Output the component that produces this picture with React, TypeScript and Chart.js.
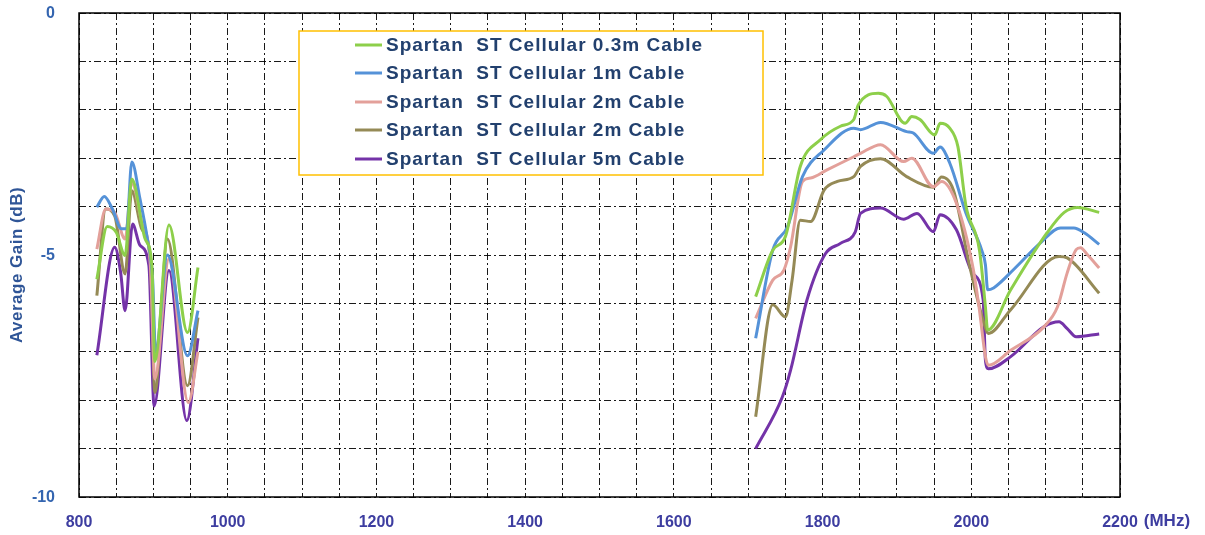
import React, { useEffect, useRef } from 'react';
import { Chart, registerables } from 'chart.js';

Chart.register(...registerables);

// ---------- data ----------
const seriesLabels = [
  'Spartan  ST Cellular 0.3m Cable',
  'Spartan  ST Cellular 1m Cable',
  'Spartan  ST Cellular 2m Cable',
  'Spartan  ST Cellular 2m Cable',
  'Spartan  ST Cellular 5m Cable',
];
const seriesColors = ['#8DCF4A', '#5592D8', '#E3A09A', '#958A56', '#7433A8'];

// low band (cellular 824-960 MHz)
const lowFreq03 = [824, 838, 850, 862, 871, 889, 898, 902, 921, 946, 960];
const lowGain03 = [-5.5, -4.41, -4.53, -5.01, -3.43, -4.67, -5.22, -7.2, -4.38, -6.6, -5.26];
const lowFreq1 = [824, 834, 845, 857, 864, 871, 882, 892, 899, 903, 919, 946, 960];
const lowGain1 = [-4.01, -3.79, -4.05, -4.46, -4.46, -3.08, -3.84, -4.67, -5.5, -7.0, -5.0, -7.08, -6.15];
const lowFreq2a = [824, 836, 848, 862, 871, 884, 896, 902, 921, 947, 960];
const lowGain2a = [-4.88, -4.05, -4.12, -4.67, -3.5, -4.3, -5.22, -7.56, -5.08, -8.05, -7.0];
const lowFreq2b = [824, 836, 848, 862, 871, 884, 896, 902, 919, 946, 960];
const lowGain2b = [-5.84, -4.05, -4.19, -5.39, -3.67, -4.45, -5.1, -7.84, -4.67, -7.7, -6.29];
const lowFreq5 = [824, 848, 856, 862, 872, 882, 894, 901, 921, 945, 960];
const lowGain5 = [-7.07, -4.84, -5.36, -6.15, -4.36, -4.8, -5.22, -8.12, -5.32, -8.42, -6.72];

// high band (1710-2170 MHz)
const highFreq03 = [1710, 1733, 1750, 1770, 1797, 1824, 1842, 1848, 1875, 1886, 1911, 1920, 1931, 1951, 1958, 1971, 1982, 1993, 2011, 2019, 2022, 2053, 2102, 2125, 2143, 2172];
const highGain03 = [-5.86, -4.9, -4.62, -3.17, -2.62, -2.34, -2.2, -1.9, -1.66, -1.72, -2.28, -2.14, -2.2, -2.52, -2.28, -2.38, -2.76, -4.0, -4.9, -6.07, -6.55, -5.72, -4.54, -4.12, -4.02, -4.12];
const highFreq1 = [1710, 1733, 1753, 1773, 1802, 1842, 1851, 1878, 1913, 1922, 1949, 1958, 1971, 1993, 2014, 2019, 2022, 2030, 2057, 2093, 2120, 2138, 2152, 2172];
const highGain1 = [-6.72, -4.9, -4.41, -3.38, -2.83, -2.38, -2.41, -2.26, -2.45, -2.48, -2.9, -2.77, -3.1, -4.14, -4.9, -5.2, -5.72, -5.68, -5.3, -4.75, -4.44, -4.44, -4.54, -4.78];
const highFreq2a = [1710, 1733, 1748, 1757, 1773, 1784, 1806, 1842, 1851, 1878, 1909, 1920, 1949, 1960, 1980, 2002, 2011, 2019, 2023, 2053, 2098, 2116, 2129, 2141, 2147, 2156, 2172];
const highGain2a = [-6.31, -5.52, -5.31, -4.83, -3.48, -3.41, -3.24, -2.97, -2.9, -2.72, -3.07, -3.0, -3.59, -3.48, -3.93, -5.24, -6.14, -7.1, -7.28, -6.97, -6.48, -6.07, -5.37, -4.89, -4.85, -4.99, -5.27];
const highFreq2b = [1710, 1733, 1750, 1759, 1770, 1784, 1802, 1820, 1842, 1851, 1878, 1913, 1949, 1960, 1976, 1998, 2020, 2023, 2053, 2118, 2129, 2172];
const highGain2b = [-8.34, -6.03, -6.28, -5.52, -4.28, -4.31, -3.66, -3.48, -3.38, -3.17, -3.01, -3.38, -3.6, -3.39, -3.66, -5.24, -6.55, -6.62, -6.13, -5.03, -5.06, -5.79];
const highFreq5 = [1710, 1746, 1757, 1779, 1804, 1824, 1844, 1851, 1878, 1909, 1927, 1949, 1958, 1980, 2002, 2016, 2019, 2023, 2053, 2098, 2118, 2129, 2141, 2172];
const highGain5 = [-9.0, -7.93, -7.38, -5.93, -4.97, -4.76, -4.52, -4.14, -4.03, -4.26, -4.14, -4.52, -4.17, -4.48, -5.38, -5.93, -7.17, -7.35, -7.1, -6.48, -6.38, -6.52, -6.69, -6.63];

const lowFreqs = [lowFreq03, lowFreq1, lowFreq2a, lowFreq2b, lowFreq5];
const lowGains = [lowGain03, lowGain1, lowGain2a, lowGain2b, lowGain5];
const highFreqs = [highFreq03, highFreq1, highFreq2a, highFreq2b, highFreq5];
const highGains = [highGain03, highGain1, highGain2a, highGain2b, highGain5];

const xTickLabels = [800, 1000, 1200, 1400, 1600, 1800, 2000, 2200];
const yTickLabels = [0, -5, -10];

const FONT = '"Liberation Sans", Arial, sans-serif';

function buildPoints(i: number) {
  const pts: { x: number; y: number | null }[] = [];
  lowFreqs[i].forEach((f, k) => pts.push({ x: f, y: lowGains[i][k] }));
  pts.push({ x: 1300, y: null }); // gap between bands
  highFreqs[i].forEach((f, k) => pts.push({ x: f, y: highGains[i][k] }));
  return pts;
}

const framePlugin = {
  id: 'frameAndLegend',
  afterDraw(chart: any) {
    const { ctx, chartArea } = chart;
    const { left, top, right, bottom } = chartArea;
    ctx.save();
    // frame
    ctx.strokeStyle = '#000';
    ctx.lineWidth = 1.5;
    ctx.setLineDash([]);
    ctx.strokeRect(left, top, right - left, bottom - top);

    // y tick labels
    const ys = chart.scales.y;
    ctx.font = `bold 16px ${FONT}`;
    ctx.fillStyle = '#3465B0';
    ctx.textAlign = 'right';
    ctx.textBaseline = 'middle';
    yTickLabels.forEach((v) => {
      ctx.fillText(String(v), 55, ys.getPixelForValue(v) + 1);
    });

    // y-axis title
    ctx.save();
    ctx.translate(17, 265);
    ctx.rotate(-Math.PI / 2);
    ctx.fillStyle = '#2F5597';
    ctx.font = `bold 17px ${FONT}`;
    (ctx as any).letterSpacing = '0.5px';
    ctx.textAlign = 'center';
    ctx.textBaseline = 'middle';
    ctx.fillText('Average Gain (dB)', 0, 0);
    ctx.restore();

    // (MHz) unit after last x label
    const xs = chart.scales.x;
    ctx.font = `bold 16px ${FONT}`;
    const px = xs.getPixelForValue(2200);
    const w2200 = ctx.measureText('2200').width;
    ctx.font = `bold 17px ${FONT}`;
    ctx.fillStyle = '#3D3DA0';
    ctx.textAlign = 'left';
    ctx.textBaseline = 'middle';
    ctx.fillText('(MHz)', px + w2200 / 2 + 6, 521);

    // legend
    const bx = 299, by = 31, bw = 464, bh = 144;
    ctx.fillStyle = '#fff';
    ctx.fillRect(bx, by, bw, bh);
    ctx.strokeStyle = '#FFC000';
    ctx.lineWidth = 1.5;
    ctx.strokeRect(bx, by, bw, bh);
    const rows = [45, 73, 102, 130, 159];
    ctx.font = `bold 19px ${FONT}`;
    (ctx as any).letterSpacing = '1px';
    ctx.textBaseline = 'middle';
    ctx.textAlign = 'left';
    seriesLabels.forEach((lab, i) => {
      ctx.strokeStyle = seriesColors[i];
      ctx.lineWidth = 3;
      ctx.beginPath();
      ctx.moveTo(355, rows[i]);
      ctx.lineTo(382, rows[i]);
      ctx.stroke();
      ctx.fillStyle = '#22406E';
      ctx.fillText(lab, 386, rows[i] + 1);
    });
    (ctx as any).letterSpacing = '0px';
    ctx.restore();
  },
};

export default function App() {
  const ref = useRef<HTMLCanvasElement>(null);
  useEffect(() => {
    document.body.style.margin = '0';
    const canvas = ref.current!;
    const datasets = seriesLabels.map((lab, i) => ({
      label: lab,
      data: buildPoints(i),
      borderColor: seriesColors[i],
      backgroundColor: seriesColors[i],
      borderWidth: 3,
      showLine: true,
      spanGaps: false,
      pointRadius: 0,
      cubicInterpolationMode: 'monotone' as const,
    }));
    const chart = new Chart(canvas, {
      type: 'scatter',
      data: { datasets },
      options: {
        responsive: false,
        animation: false,
        devicePixelRatio: 1,
        layout: { padding: { left: 0, right: 85, top: 13, bottom: 0 } },
        plugins: { legend: { display: false }, tooltip: { enabled: false } },
        scales: {
          x: {
            type: 'linear',
            min: 800,
            max: 2200,
            afterFit: (s: any) => { s.height = 38; },
            ticks: {
              stepSize: 50,
              autoSkip: false,
              maxRotation: 0,
              padding: 16,
              color: '#3D3DA0',
              font: { family: FONT, size: 16, weight: 'bold' },
              callback: (v: any) => (xTickLabels.includes(Number(v)) ? String(v) : ''),
            },
            grid: { color: 'rgba(0,0,0,0.9)', lineWidth: 1, drawTicks: false },
            border: { display: false, dash: [7, 3, 2, 3] },
          },
          y: {
            type: 'linear',
            min: -10,
            max: 0,
            afterFit: (s: any) => { s.width = 79; },
            ticks: {
              stepSize: 1,
              autoSkip: false,
              display: false,
            },
            grid: { color: 'rgba(0,0,0,0.9)', lineWidth: 1, drawTicks: false },
            border: { display: false, dash: [7, 3, 2, 3] },
          },
        },
      } as any,
      plugins: [framePlugin],
    });
    return () => chart.destroy();
  }, []);
  return (
    <div style={{ position: 'absolute', left: 0, top: 0, width: 1205, height: 535, background: '#fff' }}>
      <canvas ref={ref} width={1205} height={535} style={{ display: 'block' }} />
    </div>
  );
}
